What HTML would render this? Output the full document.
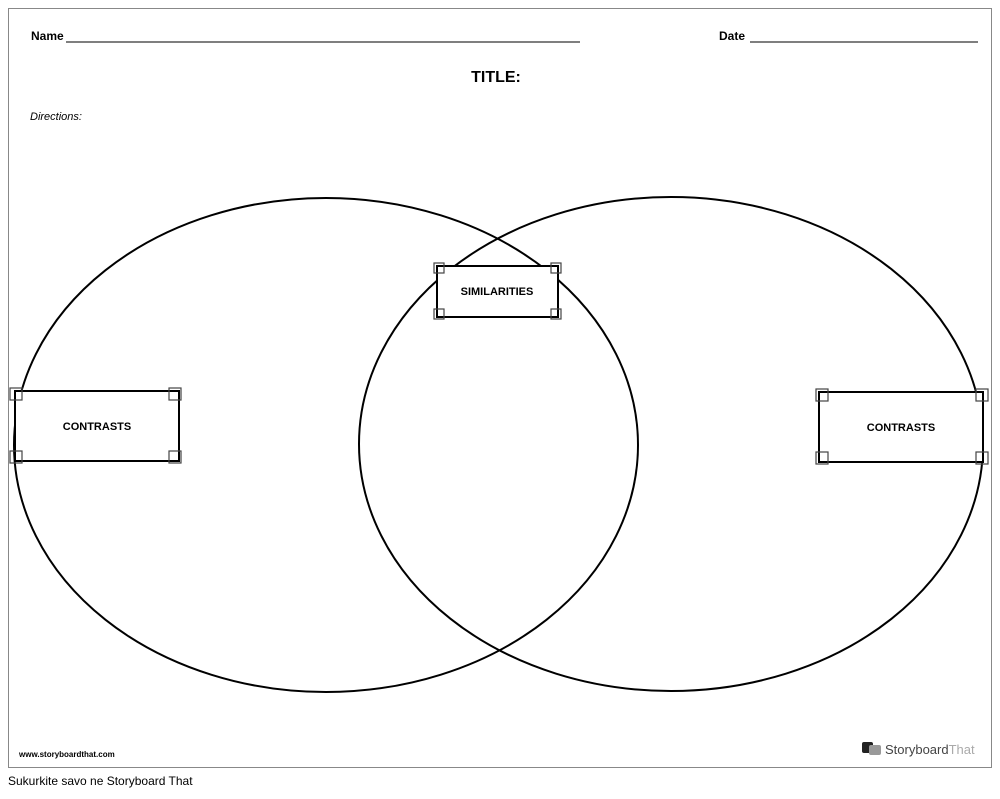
<!DOCTYPE html>
<html><head><style>
body{margin:0;width:1000px;height:794px;background:#fff;overflow:hidden;font-family:"Liberation Sans",sans-serif;}
</style></head><body>
<svg width="1000" height="794" xmlns="http://www.w3.org/2000/svg">
<rect x="8.5" y="8.5" width="983" height="759" fill="#fff" stroke="#888" stroke-width="1"/>
<text x="31" y="40" font-size="12" font-weight="bold" font-family="Liberation Sans Narrow, Liberation Sans, sans-serif">Name</text>
<line x1="66" y1="42" x2="580" y2="42" stroke="#333" stroke-width="1.3"/>
<text x="719" y="40" font-size="12" font-weight="bold" font-family="Liberation Sans Narrow, Liberation Sans, sans-serif">Date</text>
<line x1="750" y1="42" x2="978" y2="42" stroke="#333" stroke-width="1.3"/>
<text x="496" y="82" font-size="16" font-weight="bold" text-anchor="middle" font-family="Liberation Sans Narrow, Liberation Sans, sans-serif">TITLE:</text>
<text x="30" y="120" font-size="11" font-style="italic" font-family="Liberation Sans, sans-serif">Directions:</text>
<g fill="none" stroke="#000" stroke-width="2">
<ellipse cx="326" cy="445" rx="312" ry="247"/>
<ellipse cx="671" cy="444" rx="312" ry="247"/>
</g>
<g stroke="#000" stroke-width="2" fill="#fff">
<rect x="437" y="266" width="121" height="51"/>
<rect x="15" y="391" width="164" height="70"/>
<rect x="819" y="392" width="164" height="70"/>
</g>
<g fill="none" stroke="#444" stroke-width="1.2">
<rect x="434" y="263" width="10" height="10"/><rect x="551" y="263" width="10" height="10"/>
<rect x="434" y="309" width="10" height="10"/><rect x="551" y="309" width="10" height="10"/>
<rect x="10" y="388" width="12" height="12"/><rect x="169" y="388" width="12" height="12"/>
<rect x="10" y="451" width="12" height="12"/><rect x="169" y="451" width="12" height="12"/>
<rect x="816" y="389" width="12" height="12"/><rect x="976" y="389" width="12" height="12"/>
<rect x="816" y="452" width="12" height="12"/><rect x="976" y="452" width="12" height="12"/>
</g>
<g font-size="11" font-weight="bold" text-anchor="middle" font-family="Liberation Sans, sans-serif">
<text x="497" y="295">SIMILARITIES</text>
<text x="97" y="430">CONTRASTS</text>
<text x="901" y="431">CONTRASTS</text>
</g>
<text x="19" y="757" font-size="8" font-weight="bold" font-family="Liberation Sans Narrow, Liberation Sans, sans-serif">www.storyboardthat.com</text>
<rect x="862" y="742" width="11" height="11" rx="2" fill="#222"/>
<rect x="869" y="745" width="12" height="10" rx="2" fill="#999"/>
<text x="885" y="754" font-size="13" fill="#444">Storyboard<tspan fill="#aaa">That</tspan></text>
<text x="8" y="785" font-size="12" font-family="Liberation Sans Narrow, Liberation Sans, sans-serif">Sukurkite savo ne Storyboard That</text>
</svg>
</body></html>
